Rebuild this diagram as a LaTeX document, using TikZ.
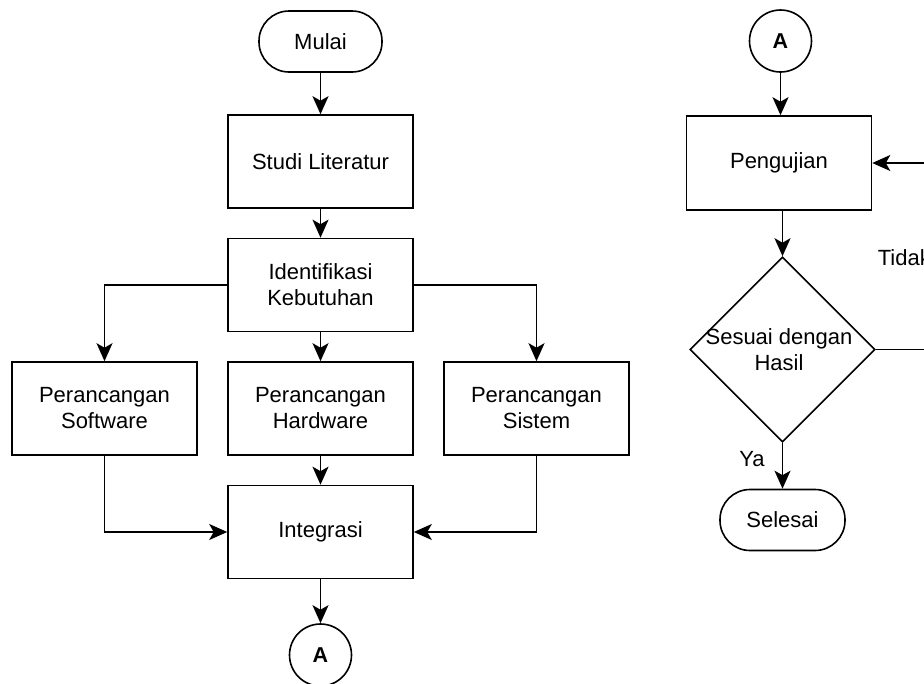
\documentclass[tikz,border=0pt]{standalone}
\usepackage{fontspec}
\setmainfont{Liberation Sans}
\usetikzlibrary{arrows.meta,shapes.geometric}
\tikzset{
  box/.style={draw, rectangle, minimum width=185pt, minimum height=93pt, align=center, inner sep=0pt},
  term/.style={draw, rectangle, rounded corners=30pt, minimum width=123pt, minimum height=61pt, inner sep=0pt},
  conn/.style={draw, circle, minimum size=62pt, inner sep=0pt, font=\fontsize{21.5}{26}\selectfont\bfseries},
  dec/.style={draw, diamond, minimum width=185pt, minimum height=185pt, inner sep=0pt},
  lbl/.style={inner sep=0pt},
  arr/.style={-{Stealth[length=18pt,width=16pt,inset=4.5pt]}},
}
\begin{document}
\begin{tikzpicture}[x=1pt,y=-1pt,line width=1.6pt,font=\fontsize{22}{26}\selectfont]
\useasboundingbox (0,0) rectangle (924,683);
\clip (0,0) rectangle (924,683);
% left column
\node[term] (mulai) at (320.5,41.5) {Mulai};
\node[box] (studi) at (320.5,161.5) {Studi Literatur};
\node[box] (ident) at (320.5,285) {Identifikasi\\Kebutuhan};
\node[box] (soft) at (104.5,408.5) {Perancangan\\Software};
\node[box] (hard) at (320.5,408.5) {Perancangan\\Hardware};
\node[box] (sist) at (536.5,408.5) {Perancangan\\Sistem};
\node[box] (integ) at (320.5,532) {Integrasi};
\node[conn] (a1) at (320.5,655) {A};
% right column
\node[conn] (a2) at (780.5,41) {A};
\node[box, minimum height=94pt] (peng) at (779,163) {Pengujian};
\node[dec] (dec) at (782.5,349.5) {};
\node[lbl, align=center] (dectext) at (779,350) {Sesuai dengan\\Hasil};
\node[term, minimum width=125pt] (sel) at (782.5,520) {Selesai};
\node[lbl] (ya) at (752,459) {Ya};
\node[lbl, anchor=west] (tidak) at (877,258) {Tidak};
\coordinate (loop) at (950,349.5);
% connectors
\draw[arr] (mulai) -- (studi);
\draw[arr] (studi) -- (ident);
\draw[arr] (ident.west) -| (soft.north);
\draw[arr] (ident) -- (hard);
\draw[arr] (ident.east) -| (sist.north);
\draw[arr] (soft.south) |- (integ.west);
\draw[arr] (hard) -- (integ);
\draw[arr] (sist.south) |- (integ.east);
\draw[arr] (integ) -- (a1);
\draw[arr] (a2.south) -- (a2.south |- peng.north);
\draw[arr] (dec.north |- peng.south) -- (dec.north);
\draw[arr] (dec) -- (sel);
\draw[arr] (dec.east) -- (loop) |- (peng.east);
\end{tikzpicture}
\end{document}
